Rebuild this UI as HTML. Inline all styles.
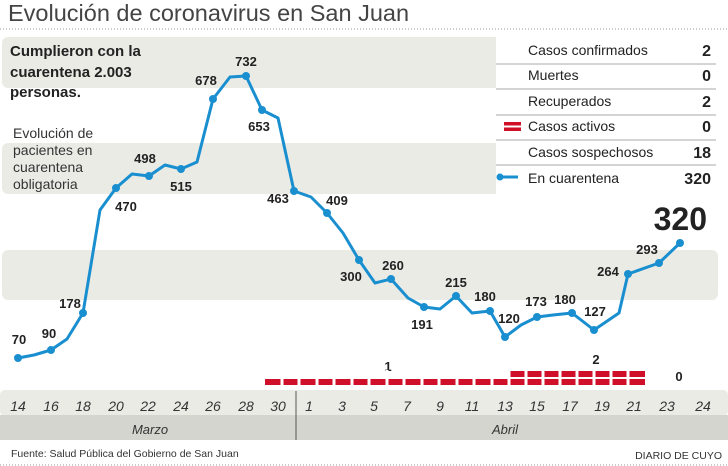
<!DOCTYPE html>
<html><head><meta charset="utf-8"><style>
body{margin:0;background:#fff;}
svg{display:block;font-family:"Liberation Sans",Arial,sans-serif;}
.b{font-weight:bold;font-size:13px;fill:#222;}
.t{font-size:14px;fill:#222;}
.d{font-size:14px;fill:#333;font-style:italic;}
</style></head><body>
<svg width="728" height="466" viewBox="0 0 728 466">
<text x="8" y="21" font-size="23.5" fill="#444">Evolución de coronavirus en San Juan</text>
<line x1="0" y1="29" x2="728" y2="29" stroke="#999" stroke-dasharray="1,2"/>
<rect x="2" y="37" width="716" height="51" rx="6" fill="#ebebe6"/>
<rect x="2" y="143" width="716" height="51" rx="6" fill="#ebebe6"/>
<rect x="2" y="250" width="716" height="50" rx="6" fill="#ebebe6"/>
<rect x="496" y="37" width="222" height="157" fill="#fff"/>
<g stroke="#bbb" stroke-width="1.2">
<line x1="496" y1="64" x2="716" y2="64"/><line x1="496" y1="89" x2="716" y2="89"/>
<line x1="496" y1="115" x2="716" y2="115"/><line x1="496" y1="140" x2="716" y2="140"/>
<line x1="496" y1="165" x2="716" y2="165"/>
</g>
<g class="t">
<text x="528" y="55">Casos confirmados</text><text x="528" y="80">Muertes</text>
<text x="528" y="106">Recuperados</text><text x="528" y="131">Casos activos</text>
<text x="528" y="157">Casos sospechosos</text><text x="528" y="183">En cuarentena</text>
</g>
<g font-size="16" font-weight="bold" fill="#222" text-anchor="end">
<text x="711" y="56">2</text><text x="711" y="81">0</text><text x="711" y="107">2</text>
<text x="711" y="132">0</text><text x="711" y="158">18</text><text x="711" y="184">320</text>
</g>
<rect x="504" y="122" width="17" height="3.5" fill="#d0102a"/><rect x="504" y="127.5" width="17" height="3.5" fill="#d0102a"/>
<line x1="500" y1="177" x2="518" y2="177" stroke="#1a8fd0" stroke-width="3"/><circle cx="500" cy="177" r="3.5" fill="#1a8fd0"/>
<text x="707" y="230" font-size="32" font-weight="bold" fill="#222" text-anchor="end">320</text>
<g font-size="15" font-weight="bold" fill="#222">
<text x="10" y="56">Cumplieron con la</text><text x="10" y="77">cuarentena 2.003</text><text x="10" y="97">personas.</text>
</g>
<g font-size="14" fill="#333">
<text x="13" y="138">Evolución de</text><text x="13" y="155">pacientes en</text>
<text x="13" y="172">cuarentena</text><text x="13" y="189">obligatoria</text>
</g>
<polyline fill="none" stroke="#1a8fd0" stroke-width="3" stroke-linejoin="round" points="18,358 34,355 51,350 67,339 83,313 100,210 116,188 132,174 149,176 165,165 181,169 197,162 213,99 230,77 246,76 262,110 278,118 294,191 311,197 327,213 343,233 359,260 375,283 391,279 408,298 424,307 440,309 456,296 472,313 490,311 505,337 521,325 537,317 553,315 572,313 594,330 619,313 628,274 659,263 680,243"/>
<g fill="#1a8fd0">
<circle cx="18" cy="358" r="4"/><circle cx="51" cy="350" r="4"/><circle cx="83" cy="313" r="4"/><circle cx="116" cy="188" r="4"/><circle cx="149" cy="176" r="4"/><circle cx="181" cy="169" r="4"/><circle cx="213" cy="99" r="4"/><circle cx="246" cy="76" r="4"/><circle cx="262" cy="110" r="4"/><circle cx="294" cy="191" r="4"/><circle cx="327" cy="213" r="4"/><circle cx="359" cy="260" r="4"/><circle cx="391" cy="279" r="4"/><circle cx="424" cy="307" r="4"/><circle cx="456" cy="296" r="4"/><circle cx="490" cy="311" r="4"/><circle cx="505" cy="337" r="4"/><circle cx="537" cy="317" r="4"/><circle cx="572" cy="313" r="4"/><circle cx="594" cy="330" r="4"/><circle cx="628" cy="274" r="4"/><circle cx="659" cy="263" r="4"/><circle cx="680" cy="243" r="4"/>
</g>
<g class="b" text-anchor="middle">
<text x="19" y="344">70</text><text x="49" y="338">90</text><text x="70" y="308">178</text>
<text x="126" y="211">470</text><text x="145" y="163">498</text><text x="181" y="191">515</text>
<text x="206" y="85">678</text><text x="246" y="66">732</text><text x="259" y="131">653</text>
<text x="278" y="203">463</text><text x="337" y="205">409</text><text x="351" y="281">300</text>
<text x="393" y="270">260</text><text x="422" y="329">191</text><text x="456" y="287">215</text>
<text x="485" y="301">180</text><text x="509" y="323">120</text><text x="536" y="306">173</text>
<text x="565" y="304">180</text><text x="595" y="316">127</text><text x="608" y="276">264</text>
<text x="647" y="254">293</text>
<text x="388" y="371">1</text><text x="596" y="364">2</text><text x="679" y="381">0</text>
</g>
<g fill="#d0102a">
<rect x="265" y="379" width="380" height="6"/>
<rect x="508" y="371" width="137" height="6"/>
</g>
<g stroke="#fff" stroke-width="3">
<path d="M282,370V386M299,370V386M317,370V386M334,370V386M352,370V386M369,370V386M387,370V386M404,370V386M422,370V386M439,370V386M457,370V386M474,370V386M492,370V386M509,370V386M526,370V386M543,370V386M560,370V386M577,370V386M594,370V386M611,370V386M628,370V386"/>
</g>
<rect x="0" y="390" width="728" height="26" rx="5" fill="#ebebe6"/>
<rect x="0" y="415" width="728" height="25" fill="#d5d5d0"/>
<line x1="296" y1="391" x2="296" y2="440" stroke="#555"/>
<g class="d" text-anchor="middle">
<text x="18" y="411">14</text><text x="51" y="411">16</text><text x="83" y="411">18</text><text x="116" y="411">20</text><text x="148" y="411">22</text><text x="181" y="411">24</text><text x="213" y="411">26</text><text x="246" y="411">28</text><text x="278" y="411">30</text><text x="309" y="411">1</text><text x="342" y="411">3</text><text x="374" y="411">5</text><text x="407" y="411">7</text><text x="440" y="411">9</text><text x="472" y="411">11</text><text x="505" y="411">13</text><text x="537" y="411">15</text><text x="570" y="411">17</text><text x="602" y="411">19</text><text x="634" y="411">21</text><text x="667" y="411">23</text><text x="703" y="411">24</text>
<text x="150" y="434" font-size="13">Marzo</text><text x="505" y="434" font-size="13">Abril</text>
</g>
<text x="11" y="457" font-size="10.5" fill="#333">Fuente: Salud Pública del Gobierno de San Juan</text>
<text x="722" y="459" font-size="10.5" fill="#333" text-anchor="end">DIARIO DE CUYO</text>
<line x1="0" y1="465" x2="728" y2="465" stroke="#999" stroke-dasharray="1,2"/>
</svg>
</body></html>
